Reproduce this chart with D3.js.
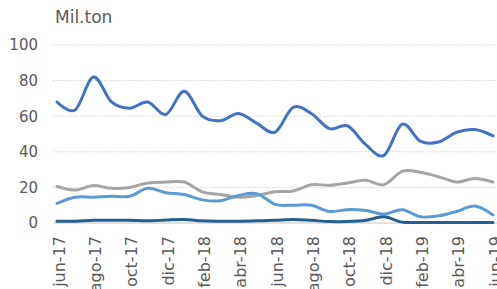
<!DOCTYPE html>
<html>
<head>
<meta charset="utf-8">
<script src="https://d3js.org/d3.v7.min.js"></script>
<style>
  body { margin: 0; background: #fff; }
  svg { display: block; font-family: "DejaVu Sans", sans-serif; }
</style>
</head>
<body>
<svg id="chart" width="497" height="289"></svg>
<script>
// months jun-17 .. jun-19
const months = ['jun-17','jul-17','ago-17','sep-17','oct-17','nov-17','dic-17','ene-18','feb-18','mar-18','abr-18','may-18',
  'jun-18','jul-18','ago-18','sep-18','oct-18','nov-18','dic-18','ene-19','feb-19','mar-19','abr-19','may-19','jun-19'];
const tickLabels = ['jun-17','ago-17','oct-17','dic-17','feb-18','abr-18','jun-18','ago-18','oct-18','dic-18','feb-19','abr-19','jun-19'];
const yTicks = [0, 20, 40, 60, 80, 100];

const serieA = [68, 63.5, 82, 68, 64.5, 68, 61, 74, 60, 57.5, 61.5, 56, 51, 65, 61.5, 53, 54.5, 44, 38, 55.5, 46, 45.5, 51, 52.5, 49];
const serieB = [20.5, 18.5, 21, 19.5, 20, 22.5, 23, 23, 17.5, 16, 14.5, 15.5, 17.5, 18, 21.5, 21.2, 22.5, 24, 21.5, 29, 28.5, 26, 23, 25, 23];
const serieC = [11, 14.5, 14.5, 15, 15, 19.5, 17, 16, 13, 12.5, 15.5, 16.5, 10.5, 10, 10, 6.5, 7.5, 7, 5, 7.5, 3.5, 4, 6.5, 9.5, 4.5];
const serieD = [1, 1, 1.5, 1.5, 1.5, 1.2, 1.7, 2, 1.2, 1, 1, 1.2, 1.5, 2, 1.5, 0.8, 0.8, 1.5, 3.5, 0.5, 0.3, 0.3, 0.3, 0.3, 0.3];

const series = [
  { name: 'B', values: serieB, color: '#A5A5A5' },
  { name: 'C', values: serieC, color: '#5B9BD5' },
  { name: 'D', values: serieD, color: '#255E91' },
  { name: 'A', values: serieA, color: '#4472C4' }
];

const svg = d3.select('#chart');
const textColor = '#595959';
const plotLeft = 53, plotRight = 497;

const x = d3.scalePoint()
  .domain(months)
  .range([57, 493]);

const y = d3.scaleLinear()
  .domain([0, 100])
  .range([223, 45]);

// gridlines
svg.append('g')
  .selectAll('line')
  .data(yTicks.filter(d => d > 0))
  .join('line')
    .attr('x1', plotLeft)
    .attr('x2', plotRight)
    .attr('y1', d => y(d))
    .attr('y2', d => y(d))
    .style('stroke', '#d4d4d4')
    .style('stroke-width', 1)
    .style('stroke-dasharray', '1.5,1.5');

// base axis line
svg.append('line')
  .attr('x1', plotLeft)
  .attr('x2', plotRight)
  .attr('y1', y(0))
  .attr('y2', y(0))
  .style('stroke', '#d9d9d9')
  .style('stroke-width', 1.5);

// y tick labels
svg.append('g')
  .selectAll('text')
  .data(yTicks)
  .join('text')
    .attr('x', 38)
    .attr('y', d => y(d))
    .attr('dy', '0.36em')
    .attr('text-anchor', 'end')
    .style('font-size', '15px')
    .style('fill', textColor)
    .text(d => d);

// x tick labels
svg.append('g')
  .selectAll('text')
  .data(tickLabels)
  .join('text')
    .attr('transform', d => `translate(${x(d) + 2},236) rotate(-90)`)
    .attr('dy', '0.36em')
    .attr('text-anchor', 'end')
    .style('font-size', '16px')
    .style('fill', textColor)
    .text(d => d);

// lines
const line = d3.line()
  .x((d, i) => x(months[i]))
  .y(d => y(d))
  .curve(d3.curveCardinal.tension(0));

svg.append('g')
  .selectAll('path')
  .data(series)
  .join('path')
    .attr('d', d => line(d.values))
    .style('fill', 'none')
    .style('stroke', d => d.color)
    .style('stroke-width', 3)
    .style('stroke-linecap', 'round')
    .style('stroke-linejoin', 'round');

// title
svg.append('text')
  .attr('x', 55)
  .attr('y', 23)
  .style('font-size', '17px')
  .style('fill', textColor)
  .text('Mil.ton');
</script>
</body>
</html>
